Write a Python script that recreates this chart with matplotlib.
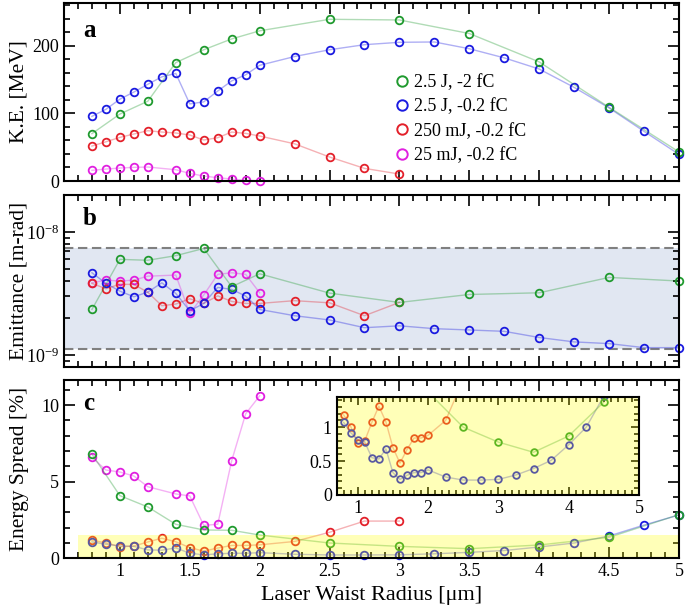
import numpy as np
import matplotlib
matplotlib.use('Agg')
import matplotlib.pyplot as plt
from matplotlib.lines import Line2D
from matplotlib.patches import Rectangle
from matplotlib.ticker import MultipleLocator

plt.rcParams['font.family'] = 'Liberation Serif'
plt.rcParams['mathtext.fontset'] = 'custom'
plt.rcParams['mathtext.rm'] = 'Liberation Serif'
plt.rcParams['mathtext.it'] = 'Liberation Serif:italic'
plt.rcParams['mathtext.bf'] = 'Liberation Serif:bold'

# ---- data ----
x_all = [0.8, 0.9, 1.0, 1.1, 1.2, 1.3, 1.4, 1.5, 1.6, 1.7, 1.8, 1.9, 2.0,
         2.25, 2.5, 2.75, 3.0, 3.25, 3.5, 3.75, 4.0, 4.25, 4.5, 4.75, 5.0]

# 2.5 J, -2 fC
green_x = [0.8, 1.0, 1.2, 1.4, 1.6, 1.8, 2.0, 2.5, 3.0, 3.5, 4.0, 4.5, 5.0]
green_ke = [70, 99, 118, 175, 194, 210, 222, 239, 238, 218, 176, 109, 43]
green_emit = [2.35e-9, 6.0e-9, 5.9e-9, 6.43e-9, 7.36e-9, 3.6e-9, 4.58e-9,
              3.19e-9, 2.68e-9, 3.11e-9, 3.21e-9, 4.28e-9, 4.0e-9]
green_spread = [6.8, 4.09, 3.35, 2.22, 1.85, 1.83, 1.52, 1.0, 0.78, 0.63, 0.87, 1.37, 2.85]

# 2.5 J, -0.2 fC
blue_x = x_all
blue_ke = [95.6, 106, 121, 131.5, 143, 154, 159, 114, 117, 133, 148, 157, 171,
           184, 194, 201.5, 205, 205.5, 195.5, 182, 165.5, 138.4, 108, 73.4, 39.4]
blue_emit = [4.67e-9, 3.83e-9, 3.31e-9, 2.98e-9, 3.25e-9, 3.87e-9, 3.17e-9, 2.29e-9,
             2.63e-9, 3.55e-9, 3.42e-9, 3.02e-9, 2.35e-9, 2.09e-9, 1.93e-9, 1.67e-9,
             1.73e-9, 1.64e-9, 1.60e-9, 1.56e-9, 1.39e-9, 1.28e-9, 1.24e-9, 1.15e-9, 1.15e-9]
blue_spread = [1.07, 0.92, 0.81, 0.78, 0.55, 0.53, 0.68, 0.33, 0.23, 0.29, 0.33, 0.33, 0.37,
               0.265, 0.22, 0.22, 0.23, 0.295, 0.39, 0.51, 0.74, 1.0, 1.46, 2.17, 2.83]

# 250 mJ, -0.2 fC
red_x = x_all[:17]
red_ke = [51.7, 58, 64.5, 69.5, 74.4, 72.4, 71, 68, 60.6, 64, 72.4, 70.4, 66.5,
          55, 35.5, 18.7, 10.3]
red_emit = [3.83e-9, 3.46e-9, 3.77e-9, 3.75e-9, 3.24e-9, 2.52e-9, 2.60e-9, 2.87e-9,
            2.63e-9, 3.03e-9, 2.73e-9, 2.63e-9, 2.63e-9, 2.77e-9, 2.66e-9, 2.09e-9, 2.68e-9]
red_spread = [1.18, 1.01, 0.76, 0.80, 1.07, 1.31, 1.08, 0.70, 0.47, 0.67, 0.84, 0.84, 0.88,
              1.1, 1.7, 2.43, 2.43]

# 25 mJ, -0.2 fC
mag_x = [0.8, 0.9, 1.0, 1.1, 1.2, 1.4, 1.5, 1.6, 1.7, 1.8, 1.9, 2.0]
mag_ke = [15.8, 17.7, 19.2, 20.2, 20.7, 16.7, 11.3, 7.4, 4.9, 3.0, 1.0, 0.3]
mag_emit = [3.87e-9, 4.07e-9, 4.0e-9, 4.07e-9, 4.38e-9, 4.47e-9, 2.18e-9, 3.08e-9,
            4.53e-9, 4.67e-9, 4.53e-9, 3.21e-9]
mag_spread = [6.59, 5.76, 5.63, 5.37, 4.67, 4.2, 4.07, 2.15, 2.22, 6.37, 9.43, 10.6]

labels = ['2.5 J, -2 fC', '2.5 J, -0.2 fC', '250 mJ, -0.2 fC', '25 mJ, -0.2 fC']
colors = ['#1f9a2e', '#1a1ae0', '#e3202a', '#e020e0']

emit_band = (1.125e-9, 7.45e-9)
spread_band = (0.7, 5.0, 1.5)

series = [
    (mag_x, mag_ke, mag_emit, mag_spread, colors[3]),
    (red_x, red_ke, red_emit, red_spread, colors[2]),
    (blue_x, blue_ke, blue_emit, blue_spread, colors[1]),
    (green_x, green_ke, green_emit, green_spread, colors[0]),
]

fig = plt.figure(figsize=(6.85, 6.12), dpi=100)
ax_a = fig.add_axes([0.0934, 0.7042, 0.8978, 0.2908])
ax_b = fig.add_axes([0.0934, 0.4003, 0.8978, 0.2810])
ax_c = fig.add_axes([0.0934, 0.0877, 0.8978, 0.2913])
ax_in = fig.add_axes([0.4915, 0.1912, 0.4413, 0.1606])


def style(ax, size=13):
    ax.tick_params(which='both', direction='in', top=True, right=True, labelsize=size)
    ax.tick_params(which='major', length=8, width=1.2)
    ax.tick_params(which='minor', length=4.5, width=1.2)
    for s in ax.spines.values():
        s.set_linewidth(1.5)


def draw(ax, x, y, c, ms=5.5, clip=False):
    ax.plot(x, y, '-', color=c, lw=1.0, alpha=0.35, zorder=2, clip_on=clip)
    ax.plot(x, y, 'o', mfc='none', mec=c, ms=ms, mew=1.3, zorder=2, clip_on=clip)


for x, ke, em, sp, c in series:
    draw(ax_a, x, ke, c)
    draw(ax_b, x, em, c)
    draw(ax_c, x, sp, c)
    if c != colors[3]:
        draw(ax_in, x, sp, c, ms=4.8, clip=True)

# panel a
ax_a.set_xlim(0.6, 5.0)
ax_a.set_ylim(0, 263)
ax_a.yaxis.set_major_locator(MultipleLocator(100))
ax_a.yaxis.set_minor_locator(MultipleLocator(20))
ax_a.set_ylabel('K.E. [MeV]', fontsize=15.5, va='center')
handles = [Line2D([], [], ls='none', marker='o', mfc='none', mec=c, ms=7.5, mew=1.4)
           for c in colors]
ax_a.legend(handles, labels, loc='upper left', bbox_to_anchor=(0.535, 0.60),
            frameon=False, fontsize=13, handletextpad=0.15, handlelength=1.0,
            labelspacing=0.4, borderpad=0, borderaxespad=0)

# panel b
ax_b.set_yscale('log')
ax_b.set_xlim(0.6, 5.0)
ax_b.set_ylim(8e-10, 2e-8)
ax_b.axhspan(emit_band[0], emit_band[1], color='#e1e7f2', zorder=0.5, lw=0)
for v in emit_band:
    ax_b.axhline(v, color='#808080', lw=1.5, ls=(0, (4.5, 2.2)), zorder=1)
ax_b.set_ylabel('Emittance [m-rad]', fontsize=15.5, va='center')

# panel c
ax_c.set_xlim(0.6, 5.0)
ax_c.set_ylim(0, 11.63)
ax_c.yaxis.set_major_locator(MultipleLocator(5))
ax_c.yaxis.set_minor_locator(MultipleLocator(1))
ax_c.fill_between([spread_band[0], spread_band[1]], 0, spread_band[2],
                  color='yellow', alpha=0.28, lw=0, zorder=2.2)
ax_c.set_ylabel('Energy Spread [%]', fontsize=15.5, va='center')
ax_c.set_xlabel('Laser Waist Radius [\u03bcm]', fontsize=16)

for ax in (ax_a, ax_b, ax_c):
    ax.xaxis.set_major_locator(MultipleLocator(0.5))
    ax.xaxis.set_minor_locator(MultipleLocator(0.1))
    ax.xaxis.set_major_formatter(plt.FuncFormatter(lambda v, p: '%g' % v))
    style(ax)
    ax.yaxis.set_label_coords(-0.073, 0.5)
ax_a.tick_params(labelbottom=False)
ax_b.tick_params(labelbottom=False)

for ax, letter, yy in ((ax_a, 'a', 0.809), (ax_b, 'b', 0.826), (ax_c, 'c', 0.832)):
    ax.text(0.031, yy, letter, transform=ax.transAxes, fontsize=18,
            fontweight='bold', va='baseline', ha='left')

# inset
ax_in.set_xlim(0.7, 5.0)
ax_in.set_ylim(0, 1.45)
ax_in.xaxis.set_major_locator(MultipleLocator(1))
ax_in.xaxis.set_minor_locator(MultipleLocator(0.1))
ax_in.yaxis.set_major_locator(MultipleLocator(0.5))
ax_in.yaxis.set_minor_locator(MultipleLocator(0.1))
ax_in.yaxis.set_major_formatter(plt.FuncFormatter(lambda v, p: '%g' % v))
ax_in.add_patch(Rectangle((0, 0), 1, 1, transform=ax_in.transAxes, color='yellow',
                          alpha=0.28, lw=0, zorder=2.2))
style(ax_in, size=13)
ax_in.tick_params(which='major', length=6)
ax_in.tick_params(which='minor', length=3.5)

fig.savefig('out.png', dpi=100)
